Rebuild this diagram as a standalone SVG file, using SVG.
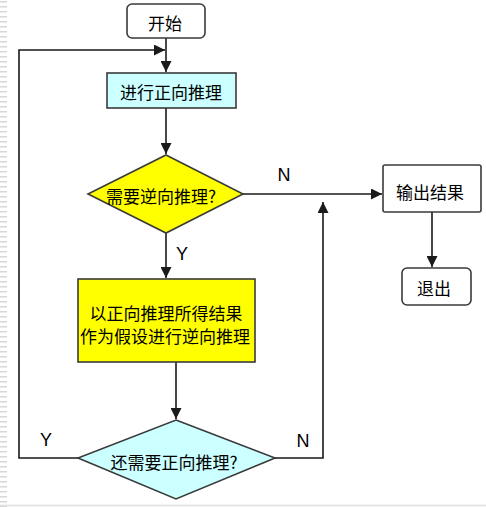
<svg xmlns="http://www.w3.org/2000/svg" width="486" height="507" viewBox="0 0 486 507">
<defs>
<style>
.node{stroke:#3a3a3a;stroke-width:1.6}
.cn{font-family:"Noto Sans CJK SC","Noto Sans CJK JP",sans-serif;font-size:17px;fill:#000;text-anchor:middle;dominant-baseline:central}
.lbl{font-family:"Liberation Sans",Arial,sans-serif;font-size:18px;fill:#000;text-anchor:middle;dominant-baseline:central}
.edge{stroke:#1a1a1a;stroke-width:1.6;fill:none}
</style>
<marker id="arr" viewBox="0 0 10 10" refX="10" refY="5" markerWidth="11" markerHeight="11" markerUnits="userSpaceOnUse" orient="auto">
<path d="M0,0 L10,5 L0,10 Z" fill="#1a1a1a"/>
</marker>
<pattern id="stripes" width="8" height="5" patternUnits="userSpaceOnUse">
<rect x="0" y="1" width="7" height="1.5" fill="#d8d8d8"/>
</pattern>
</defs>
<rect width="486" height="507" fill="#fff"/>
<rect x="0" y="0" width="8" height="507" fill="url(#stripes)"/>
<line x1="0" y1="505.5" x2="486" y2="505.5" stroke="#e0e0e0" stroke-width="1.5"/>

<g id="connectors">
<line class="edge" x1="166" y1="38" x2="166" y2="72" marker-end="url(#arr)"/>
<line class="edge" x1="166" y1="108" x2="166" y2="154" marker-end="url(#arr)"/>
<line class="edge" x1="166" y1="233" x2="166" y2="278" marker-end="url(#arr)"/>
<line class="edge" x1="243" y1="194" x2="382" y2="194" marker-end="url(#arr)"/>
<line class="edge" x1="432" y1="212" x2="432" y2="267" marker-end="url(#arr)"/>
<line class="edge" x1="176" y1="362" x2="176" y2="419" marker-end="url(#arr)"/>
<polyline class="edge" points="275,458 323,458 323,202" marker-end="url(#arr)"/>
<polyline class="edge" points="78,458 19,458 19,50 165,50" marker-end="url(#arr)"/>
<text class="lbl" x="284" y="175">N</text>
<text class="lbl" x="182" y="254">Y</text>
<text class="lbl" x="46" y="440">Y</text>
<text class="lbl" x="303" y="441">N</text>
</g>

<g id="start">
<rect class="node" x="127" y="4" width="78" height="34" rx="5" fill="#fff"/>
<text class="cn" x="165" y="22">开始</text>
</g>
<g id="forward">
<rect class="node" x="107" y="73" width="129" height="35" fill="#ccffff"/>
<text class="cn" x="171" y="91">进行正向推理</text>
</g>
<g id="needBackward">
<polygon class="node" points="166,155 243,194 166,233 88,194" fill="#ffff00"/>
<text class="cn" x="161" y="195">需要逆向推理?</text>
</g>
<g id="backward">
<rect class="node" x="78" y="279" width="177" height="83" fill="#ffff00"/>
<text class="cn" x="166" y="312">以正向推理所得结果</text>
<text class="cn" x="165" y="335">作为假设进行逆向推理</text>
</g>
<g id="needForward">
<polygon class="node" points="176,420 275,458 176,499 78,458" fill="#ccffff"/>
<text class="cn" x="174" y="461">还需要正向推理?</text>
</g>
<g id="output">
<rect class="node" x="383" y="165" width="98" height="47" rx="2" fill="#fff"/>
<text class="cn" x="430" y="191">输出结果</text>
</g>
<g id="exit">
<rect class="node" x="402" y="268" width="69" height="37" rx="5" fill="#fff"/>
<text class="cn" x="434" y="287">退出</text>
</g>
</svg>
